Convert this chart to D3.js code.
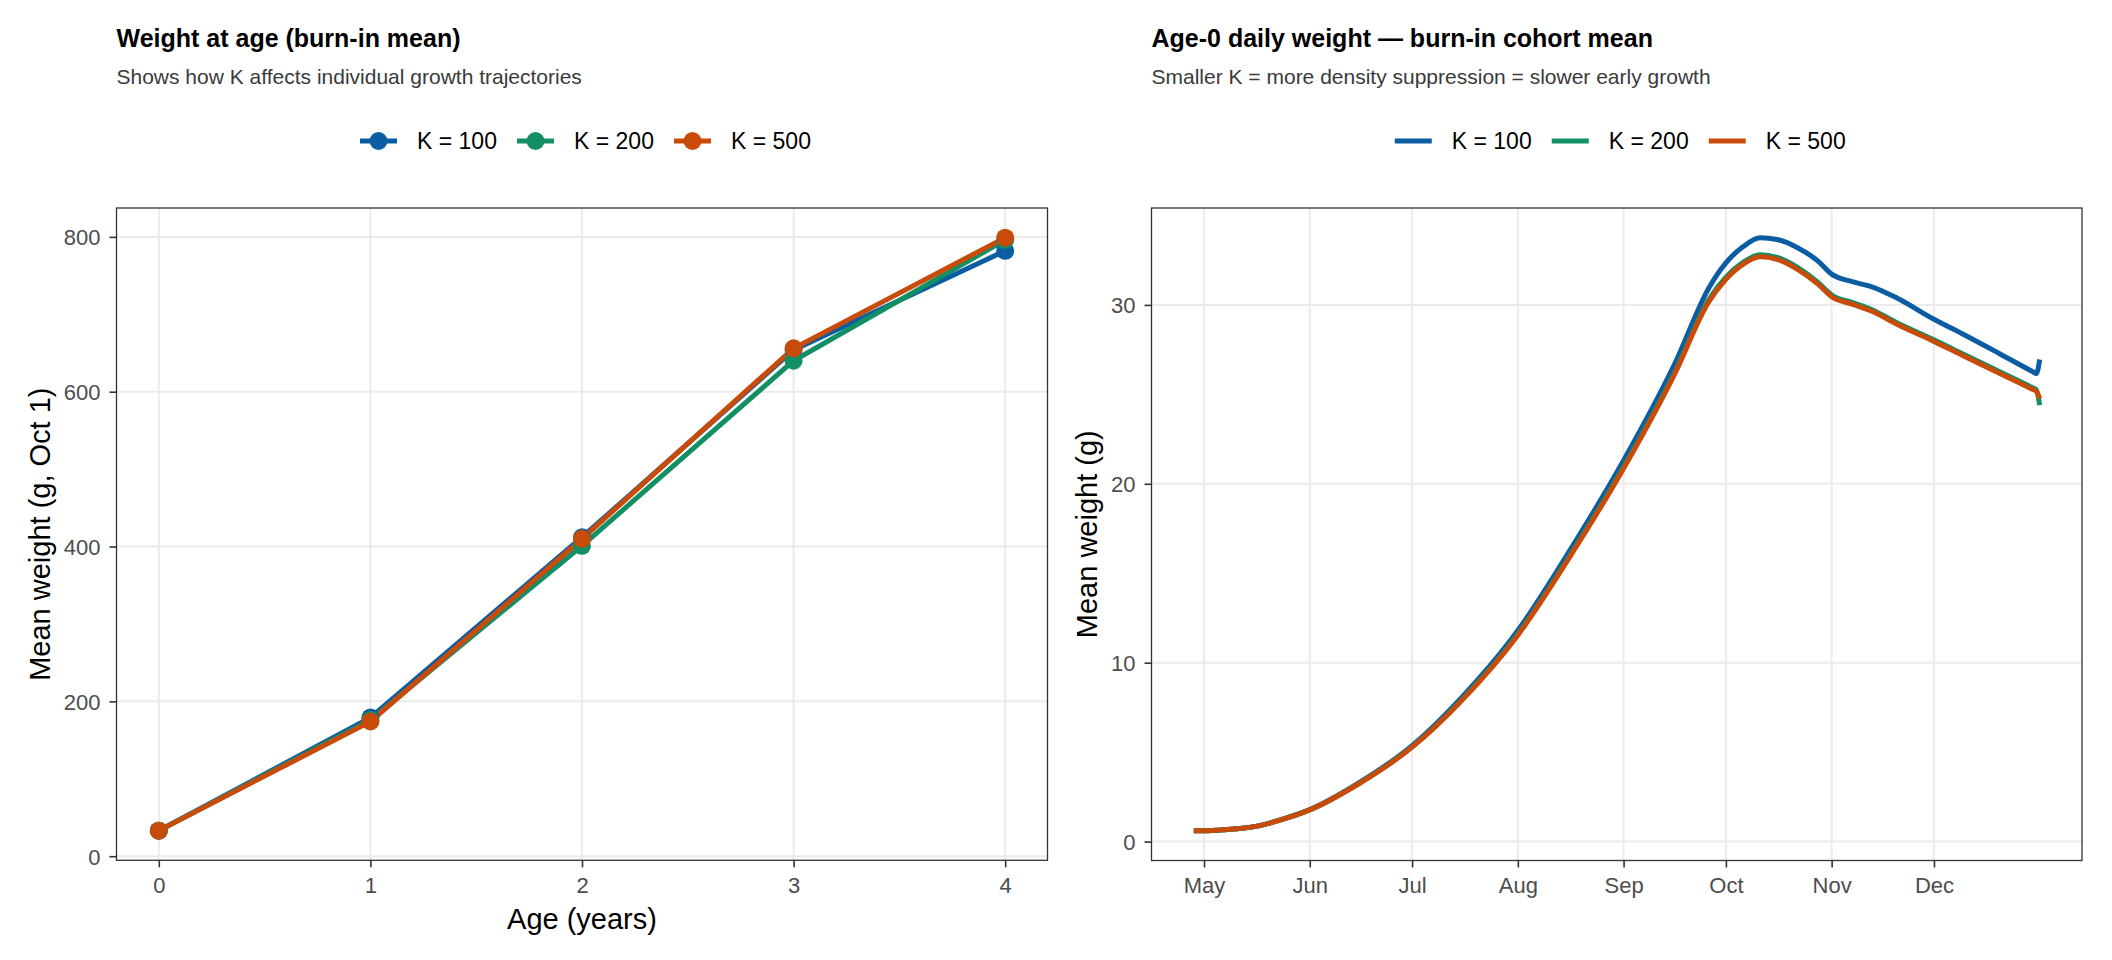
<!DOCTYPE html>
<html>
<head>
<meta charset="utf-8">
<script src="https://cdn.jsdelivr.net/npm/d3@7"></script>
<style>
  html, body { margin: 0; padding: 0; background: #ffffff; }
  svg { display: block; }
  text { font-family: "Liberation Sans", Arial, Helvetica, sans-serif; }
</style>
</head>
<body>
<svg id="chart" width="2112" height="960"></svg>
<script>
// ---------------- DATA ----------------
const seriesNames = ["K = 100", "K = 200", "K = 500"];
const seriesColors = ["#0B5DA3", "#138F65", "#C84B0A"];

// Left panel: weight at age (Oct 1)
const ages = [0, 1, 2, 3, 4];
const ageK100 = [33, 179, 412, 654, 782];
const ageK200 = [33, 176, 401, 640, 796];
const ageK500 = [33, 174, 410, 656, 799];
const ageTicks = [0, 1, 2, 3, 4];
const weightTicks = [0, 200, 400, 600, 800];

// Right panel: age-0 daily mean weight (sampled along the curves)
const dayDates = ["2001-04-28","2001-05-01","2001-05-07","2001-05-17","2001-05-24","2001-06-01",
  "2001-06-15","2001-07-01","2001-07-15","2001-08-01","2001-08-16","2001-09-01","2001-09-16",
  "2001-09-26","2001-10-01","2001-10-06","2001-10-11","2001-10-16","2001-10-22","2001-10-28",
  "2001-11-01","2001-11-07","2001-11-13","2001-11-20","2001-12-01","2001-12-10","2001-12-20",
  "2001-12-30","2001-12-31","2002-01-01"];
const dailyK100 = [0.60,0.60,0.66,0.88,1.25,1.79,3.24,5.36,7.95,11.80,16.20,21.30,26.70,
  30.95,32.35,33.25,33.76,33.66,33.20,32.45,31.72,31.30,31.00,30.40,29.20,28.32,27.30,26.26,26.16,26.95];
const dailyK200 = [0.60,0.60,0.66,0.88,1.24,1.77,3.20,5.30,7.82,11.60,15.92,20.95,26.25,
  30.30,31.55,32.38,32.80,32.66,32.10,31.26,30.55,30.14,29.72,29.02,28.05,27.21,26.29,25.36,25.26,24.40];
const dailyK500 = [0.60,0.60,0.66,0.88,1.24,1.77,3.19,5.28,7.78,11.54,15.85,20.86,26.15,
  30.18,31.43,32.27,32.69,32.55,31.99,31.16,30.46,30.04,29.63,28.93,27.96,27.12,26.20,25.27,25.17,24.76];
const monthTicks = ["2001-05-01","2001-06-01","2001-07-01","2001-08-01","2001-09-01",
  "2001-10-01","2001-11-01","2001-12-01"];
const monthLabels = ["May","Jun","Jul","Aug","Sep","Oct","Nov","Dec"];
const dailyTicks = [0, 10, 20, 30];

const leftTitle = "Weight at age (burn-in mean)";
const leftSubtitle = "Shows how K affects individual growth trajectories";
const leftXTitle = "Age (years)";
const leftYTitle = "Mean weight (g, Oct 1)";
const rightTitle = "Age-0 daily weight \u2014 burn-in cohort mean";
const rightSubtitle = "Smaller K = more density suppression = slower early growth";
const rightYTitle = "Mean weight (g)";

// ---------------- HELPERS ----------------
const svg = d3.select("#chart");
const parse = d3.timeParse("%Y-%m-%d");
const GRID = "#EBEBEB", BORDER = "#333333", TICKTXT = "#4D4D4D";
const tickFont = 22, legendFont = 23, axisTitleFont = 29;

function expand(ext) {
  const s = ext[1] - ext[0];
  return [ext[0] - 0.05 * s, ext[1] + 0.05 * s];
}

function drawHeader(p, title, subtitle) {
  svg.append("text").attr("x", p.left).attr("y", 47)
    .attr("font-size", 25).attr("font-weight", "bold").attr("fill", "#000")
    .text(title);
  svg.append("text").attr("x", p.left).attr("y", 84)
    .attr("font-size", 21).attr("fill", "#3A3A3A")
    .text(subtitle);
}

function drawLegend(p, withPoints) {
  const cx = (p.left + p.right) / 2;
  const g = svg.append("g").attr("class", "legend");
  seriesNames.forEach((name, i) => {
    const x0 = cx - 222 + 157 * i;
    const y0 = 141;
    g.append("line").attr("x1", x0).attr("x2", x0 + 37).attr("y1", y0).attr("y2", y0)
      .attr("stroke", seriesColors[i]).attr("stroke-width", 5);
    if (withPoints) {
      g.append("circle").attr("cx", x0 + 18.5).attr("cy", y0).attr("r", 9)
        .attr("fill", seriesColors[i]);
    }
    g.append("text").attr("x", x0 + 57).attr("y", y0 + 0.358 * legendFont)
      .attr("font-size", legendFont).attr("fill", "#000").text(name);
  });
}

function drawFrame(p, x, y, xTicks, xLabels, yTicks) {
  const g = svg.append("g");
  g.selectAll(".gx").data(xTicks).join("line")
    .attr("x1", d => x(d)).attr("x2", d => x(d)).attr("y1", p.top).attr("y2", p.bottom)
    .attr("stroke", GRID).attr("stroke-width", 2);
  g.selectAll(".gy").data(yTicks).join("line")
    .attr("x1", p.left).attr("x2", p.right).attr("y1", d => y(d)).attr("y2", d => y(d))
    .attr("stroke", GRID).attr("stroke-width", 2);
  const ya = d3.axisLeft(y).tickValues(yTicks).tickSize(7).tickPadding(9).tickFormat(d3.format("d"));
  const yg = svg.append("g").attr("transform", `translate(${p.left},0)`).call(ya);
  yg.select(".domain").remove();
  yg.selectAll(".tick line").attr("stroke", BORDER).attr("stroke-width", 1.6);
  yg.selectAll(".tick text").attr("font-size", tickFont).attr("fill", TICKTXT)
    .attr("font-family", "Liberation Sans, Arial, sans-serif").attr("dy", "0.358em");
  const xa = d3.axisBottom(x).tickValues(xTicks).tickSize(7).tickPadding(10)
    .tickFormat((d, i) => xLabels[i]);
  const xg = svg.append("g").attr("transform", `translate(0,${p.bottom})`).call(xa);
  xg.select(".domain").remove();
  xg.selectAll(".tick line").attr("stroke", BORDER).attr("stroke-width", 1.6);
  xg.selectAll(".tick text").attr("font-size", tickFont).attr("fill", TICKTXT)
    .attr("font-family", "Liberation Sans, Arial, sans-serif").attr("dy", "0.72em");
  return g;
}

function drawBorder(p) {
  svg.append("rect").attr("x", p.left).attr("y", p.top)
    .attr("width", p.right - p.left).attr("height", p.bottom - p.top)
    .attr("fill", "none").attr("stroke", BORDER).attr("stroke-width", 1.3);
}

// ---------------- LEFT PANEL ----------------
{
  const p = { left: 116.5, right: 1047.5, top: 208, bottom: 860.3 };
  const all = ageK100.concat(ageK200, ageK500);
  const x = d3.scaleLinear().domain(expand(d3.extent(ages))).range([p.left, p.right]);
  const y = d3.scaleLinear().domain(expand(d3.extent(all))).range([p.bottom, p.top]);
  drawHeader(p, leftTitle, leftSubtitle);
  drawLegend(p, true);
  drawFrame(p, x, y, ageTicks, ageTicks.map(String), weightTicks);

  const series = [ageK100, ageK200, ageK500];
  const line = d3.line().x((d, i) => x(ages[i])).y(d => y(d));
  series.forEach((s, k) => {
    svg.append("path").datum(s).attr("d", line).attr("fill", "none")
      .attr("stroke", seriesColors[k]).attr("stroke-width", 5).attr("stroke-linejoin", "round");
  });
  series.forEach((s, k) => {
    svg.append("g").selectAll("circle").data(s).join("circle")
      .attr("cx", (d, i) => x(ages[i])).attr("cy", d => y(d)).attr("r", 9)
      .attr("fill", seriesColors[k]);
  });
  drawBorder(p);

  svg.append("text").attr("x", (p.left + p.right) / 2).attr("y", 929)
    .attr("text-anchor", "middle").attr("font-size", axisTitleFont).attr("fill", "#000")
    .text(leftXTitle);
  svg.append("text").attr("transform", `translate(49.5,${(p.top + p.bottom) / 2}) rotate(-90)`)
    .attr("text-anchor", "middle").attr("font-size", axisTitleFont).attr("fill", "#000")
    .text(leftYTitle);
}

// ---------------- RIGHT PANEL ----------------
{
  const p = { left: 1151.5, right: 2082, top: 208, bottom: 860.5 };
  const dates = dayDates.map(parse);
  const all = dailyK100.concat(dailyK200, dailyK500);
  const tExt = d3.extent(dates).map(d => +d);
  const x = d3.scaleTime().domain(expand(tExt).map(v => new Date(v))).range([p.left, p.right]);
  const y = d3.scaleLinear().domain(expand(d3.extent(all))).range([p.bottom, p.top]);
  drawHeader(p, rightTitle, rightSubtitle);
  drawLegend(p, false);
  drawFrame(p, x, y, monthTicks.map(parse), monthLabels, dailyTicks);

  const series = [dailyK100, dailyK200, dailyK500];
  const line = d3.line().x((d, i) => x(dates[i])).y(d => y(d)).curve(d3.curveMonotoneX);
  series.forEach((s, k) => {
    svg.append("path").datum(s).attr("d", line).attr("fill", "none")
      .attr("stroke", seriesColors[k]).attr("stroke-width", 5).attr("stroke-linejoin", "round");
  });
  drawBorder(p);

  svg.append("text").attr("transform", `translate(1097,${(p.top + p.bottom) / 2}) rotate(-90)`)
    .attr("text-anchor", "middle").attr("font-size", axisTitleFont).attr("fill", "#000")
    .text(rightYTitle);
}
</script>
</body>
</html>
